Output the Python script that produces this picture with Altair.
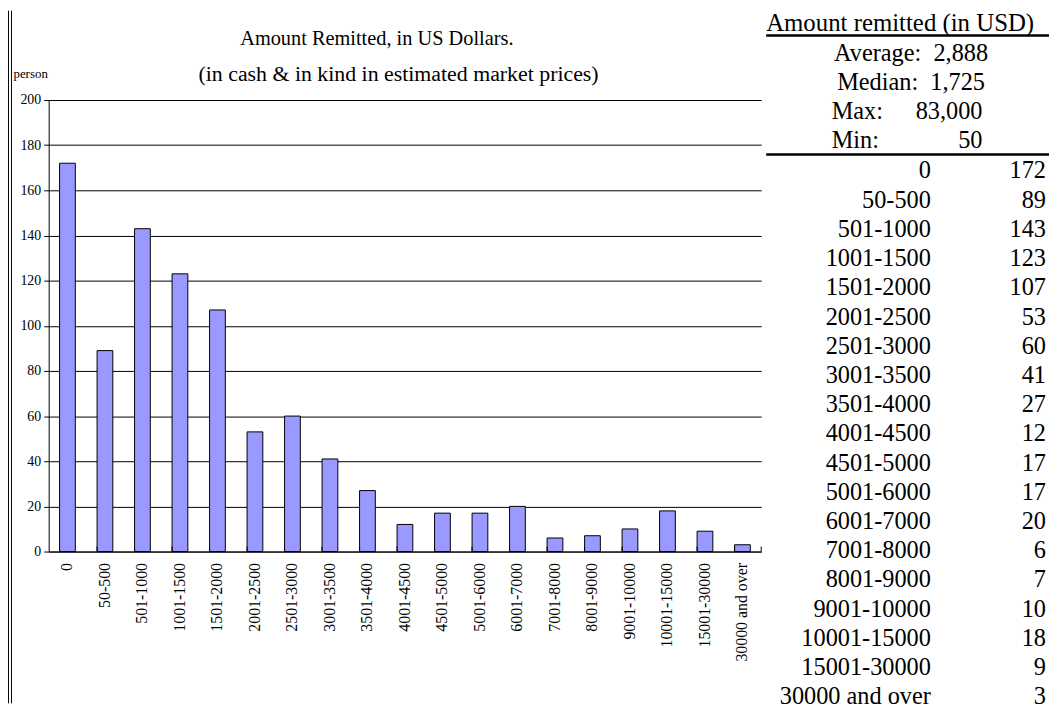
import altair as alt
import pandas as pd

categories = ["0", "50-500", "501-1000", "1001-1500", "1501-2000", "2001-2500",
              "2501-3000", "3001-3500", "3501-4000", "4001-4500", "4501-5000",
              "5001-6000", "6001-7000", "7001-8000", "8001-9000", "9001-10000",
              "10001-15000", "15001-30000", "30000 and over"]
counts = [172, 89, 143, 123, 107, 53, 60, 41, 27, 12, 17, 17, 20, 6, 7, 10, 18, 9, 3]
y_ticks = [0, 20, 40, 60, 80, 100, 120, 140, 160, 180, 200]
stat_labels = ["Average:", "Median:", "Max:", "Min:"]
stat_values = ["2,888", "1,725", "83,000", "50"]
title_text = "Amount Remitted, in US Dollars."
subtitle_text = "(in cash & in kind in estimated market prices)"
table_header = "Amount remitted (in USD)"
y_title = "person"

FONT = "Liberation Serif"
TFS = 24.5

df = pd.DataFrame({"cat": categories, "count": counts, "idx": list(range(len(categories)))})
stats = pd.DataFrame({"label": stat_labels, "value": stat_values, "idx": list(range(len(stat_labels)))})
stats["combined"] = stats["label"] + "\u00a0 " + stats["value"]
stats_top = stats.iloc[:2]
stats_bot = stats.iloc[2:]
one = pd.DataFrame({"k": [0]})

x_axis = alt.Axis(title=None, labelAngle=-90, labelFont=FONT, labelFontSize=16,
                  labelColor="black", tickSize=0, labelPadding=11,
                  domainColor="black", domainWidth=1)
x_scale = alt.Scale(paddingInner=0.58, paddingOuter=0.29)

bars = alt.Chart(df).mark_bar(fill="#9999ff", stroke="black", strokeWidth=1).encode(
    x=alt.X("cat:N", sort=categories, scale=x_scale, axis=x_axis),
    y=alt.Y("count:Q", scale=alt.Scale(domain=[0, 200]),
            axis=alt.Axis(values=y_ticks, title=y_title, titleAngle=0, titleX=-36, titleY=-27,
                          titleAlign="left", titleBaseline="middle", titleFont=FONT,
                          titleFontSize=13, titleFontWeight="normal", titleColor="black",
                          labelFont=FONT, labelFontSize=14, labelColor="black",
                          grid=True, gridColor="black", gridWidth=1, gridOpacity=1,
                          domainColor="black", tickColor="black", tickSize=5, labelPadding=3)),
)

xticks = alt.Chart(df).mark_rule(color="black", strokeWidth=1).encode(
    x=alt.X("cat:N", sort=categories, bandPosition=0, scale=x_scale, axis=x_axis),
    y=alt.value(450), y2=alt.value(455),
)
xtick_end = alt.Chart(one).mark_rule(color="black", strokeWidth=1).encode(
    x=alt.value(718), y=alt.value(450), y2=alt.value(455))

title = alt.Chart(one).mark_text(font=FONT, fontSize=20.5, align="left", baseline="middle",
                                 color="black", text=title_text).encode(
    x=alt.value(193), y=alt.value(-61))
subtitle = alt.Chart(one).mark_text(font=FONT, fontSize=22, align="left", baseline="middle",
                                    color="black", text=subtitle_text).encode(
    x=alt.value(151), y=alt.value(-26))

header = alt.Chart(one).mark_text(font=FONT, fontSize=25, align="left", baseline="middle",
                                  color="black", text=table_header).encode(
    x=alt.value(723), y=alt.value(-78))
line1 = alt.Chart(one).mark_rule(color="black", strokeWidth=2.5).encode(
    x=alt.value(723), x2=alt.value(1010), y=alt.value(-65))
line2 = alt.Chart(one).mark_rule(color="black", strokeWidth=2.5).encode(
    x=alt.value(723), x2=alt.value(1010), y=alt.value(55))

stat_y = alt.Y("idx:Q", scale=alt.Scale(domain=[0, 3], range=[-46, 41]), axis=None)
stat_c = alt.Chart(stats_top).mark_text(font=FONT, fontSize=TFS, align="center",
                                        baseline="middle", color="black").encode(
    x=alt.value(869), y=stat_y, text="combined:N")
stat_l = alt.Chart(stats_bot).mark_text(font=FONT, fontSize=TFS, align="left",
                                        baseline="middle", color="black").encode(
    x=alt.value(789), y=stat_y, text="label:N")
stat_v = alt.Chart(stats_bot).mark_text(font=FONT, fontSize=TFS, align="right",
                                        baseline="middle", color="black").encode(
    x=alt.value(941), y=stat_y, text="value:N")

row_y = alt.Y("idx:Q", scale=alt.Scale(domain=[0, 18], range=[72, 602]), axis=None)
tab_cat = alt.Chart(df).mark_text(font=FONT, fontSize=TFS, align="right", baseline="middle",
                                  color="black").encode(
    x=alt.value(889), y=row_y, text="cat:N")
tab_val = alt.Chart(df).mark_text(font=FONT, fontSize=TFS, align="right", baseline="middle",
                                  color="black").encode(
    x=alt.value(1005), y=row_y, text="count:Q")

border1 = alt.Chart(one).mark_rule(color="black", strokeWidth=1).encode(
    x=alt.value(-40.5), y=alt.value(-90), y2=alt.value(608))
border2 = alt.Chart(one).mark_rule(color="black", strokeWidth=1).encode(
    x=alt.value(-37.5), y=alt.value(-90), y2=alt.value(608))

chart = alt.layer(
    bars, xticks, xtick_end, title, subtitle, header, line1, line2,
    stat_c, stat_l, stat_v, tab_cat, tab_val, border1, border2
).resolve_scale(y="independent").properties(
    width=718, height=455,
    autosize=alt.AutoSizeParams(type="none"),
    padding={"left": 41, "top": 90, "right": 290, "bottom": 161},
    background="white",
).configure_view(stroke=None)

chart.save("out.html", embed_options={"renderer": "svg", "actions": False})
